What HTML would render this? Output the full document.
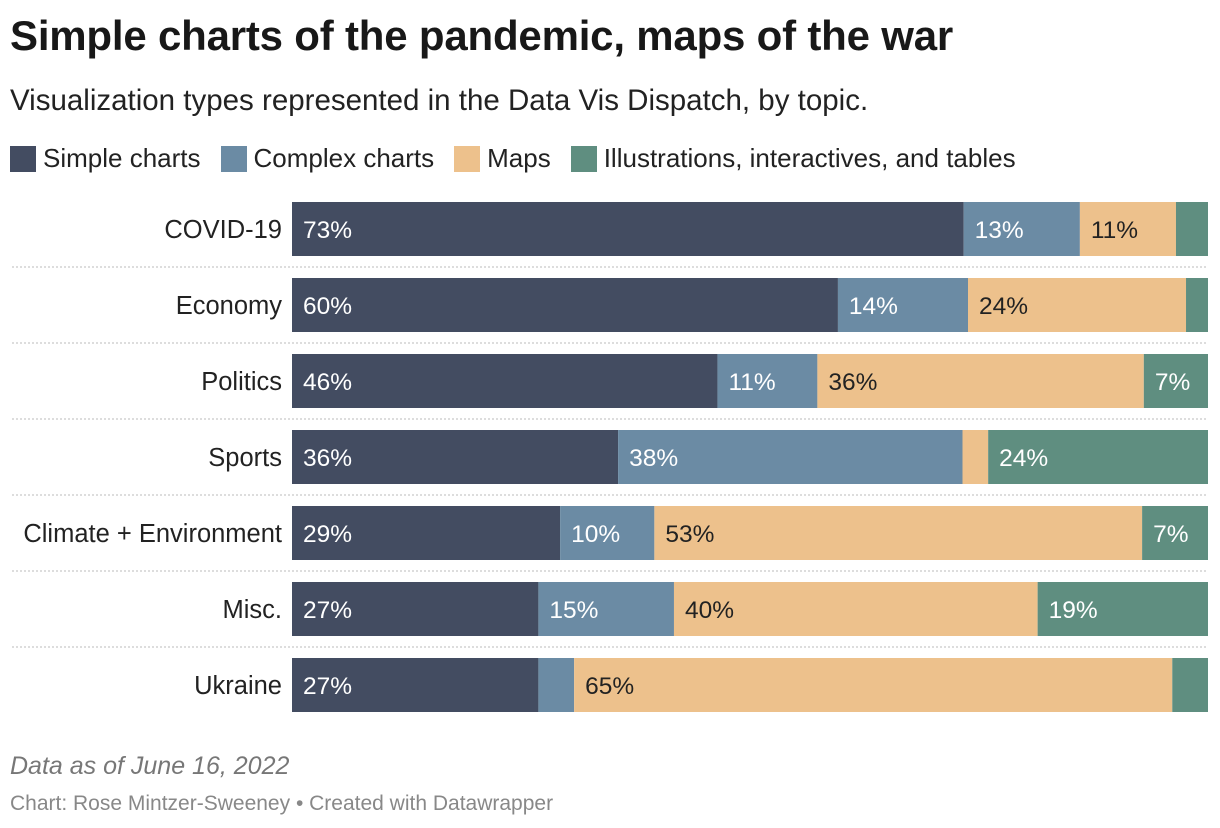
<!DOCTYPE html>
<html><head><meta charset="utf-8">
<style>
body{margin:0;width:1220px;height:828px;background:#fff;font-family:"Liberation Sans",sans-serif;overflow:hidden;position:relative}
.t{position:absolute;left:10px;top:12px;font-size:42px;font-weight:bold;color:#181818;letter-spacing:-0.2px}
.s{position:absolute;left:10px;top:84px;font-size:29.5px;color:#222}
.leg{position:absolute;left:10px;top:143px;font-size:26px;color:#222;display:flex;align-items:center}
.leg span.sw{display:inline-block;width:26px;height:26px;margin-right:7px}
.leg .it{display:flex;align-items:center;margin-right:20px}
.n{position:absolute;left:10px;top:752px;font-size:25px;font-style:italic;color:#777}
.c{position:absolute;left:10px;top:792px;font-size:21px;color:#888}
svg{position:absolute;left:0;top:0}
</style></head><body>
<div class="t">Simple charts of the pandemic, maps of the war</div>
<div class="s">Visualization types represented in the Data Vis Dispatch, by topic.</div>
<div class="leg">
<div class="it"><span class="sw" style="background:#434c61"></span>Simple charts</div>
<div class="it"><span class="sw" style="background:#6b8ba4"></span>Complex charts</div>
<div class="it"><span class="sw" style="background:#edc18c"></span>Maps</div>
<div class="it"><span class="sw" style="background:#5f8e80"></span>Illustrations, interactives, and tables</div>
</div>
<svg id="ch" width="1220" height="828"></svg>
<div class="n">Data as of June 16, 2022</div>
<div class="c">Chart: Rose Mintzer-Sweeney • Created with Datawrapper</div>
<script>
const categories=["COVID-19","Economy","Politics","Sports","Climate + Environment","Misc.","Ukraine"];
const simple=[73.4,59.6,46.4,35.6,29.3,26.9,26.9];
const complex=[12.7,14.2,10.9,37.6,10.3,14.8,3.9];
const maps=[10.5,23.8,35.6,2.8,53.3,39.7,65.3];
const other=[3.5,2.4,7.0,24.0,7.2,18.6,3.9];
const series=[simple,complex,maps,other];
const names=["simple","complex","maps","other"];
const colors=["#434c61","#6b8ba4","#edc18c","#5f8e80"];
const textColors=["#fff","#fff","#222","#fff"];
const X0=292,W=916,Y0=202,BH=54,P=76;
const ns="http://www.w3.org/2000/svg",svg=document.getElementById('ch');
function x(v){return X0+v/100*W;}
function y(i){return Y0+i*P;}
categories.forEach((c,i)=>{
  const tot=series.reduce((a,s)=>a+s[i],0);
  const lb=document.createElementNS(ns,'text');
  
  
  lb.setAttribute('x',282);lb.setAttribute('y',y(i)+BH/2+9);
  lb.setAttribute('text-anchor','end');lb.setAttribute('font-size','25.5');lb.setAttribute('fill','#222');
  lb.textContent=c;svg.appendChild(lb);
  let acc=0;
  series.forEach((s,k)=>{
    const v=s[i]/tot*100;
    const r=document.createElementNS(ns,'rect');
    
    
    r.setAttribute('x',x(acc));r.setAttribute('y',y(i));
    r.setAttribute('width',x(acc+v)-x(acc));r.setAttribute('height',BH);
    r.setAttribute('fill',colors[k]);svg.appendChild(r);
    if(x(acc+v)-x(acc)>50){
      const t=document.createElementNS(ns,'text');
      
      
      t.setAttribute('x',x(acc)+11);t.setAttribute('y',y(i)+BH/2+9);
      t.setAttribute('font-size','24.5');t.setAttribute('fill',textColors[k]);
      t.textContent=Math.round(s[i])+'%';svg.appendChild(t);
    }
    acc+=v;
  });
  if(i<categories.length-1){
    const l=document.createElementNS(ns,'line');
    
    
    l.setAttribute('x1',12);l.setAttribute('x2',1208);
    l.setAttribute('y1',y(i)+BH+11);l.setAttribute('y2',y(i)+BH+11);
    l.setAttribute('stroke','#bbb');l.setAttribute('stroke-dasharray','2,2');
    svg.appendChild(l);
  }
});
</script>
</body></html>
